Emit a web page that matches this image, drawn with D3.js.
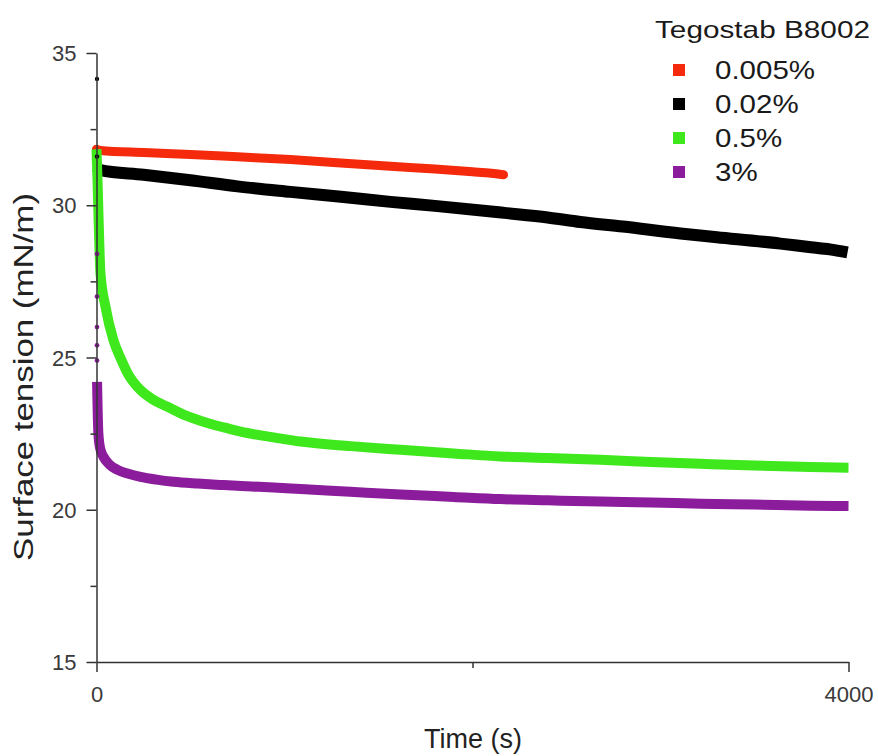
<!DOCTYPE html>
<html><head><meta charset="utf-8">
<script src="https://cdn.jsdelivr.net/npm/d3@7"></script>
<style>body{margin:0;background:#fff}svg{display:block}text{font-family:"Liberation Sans",Arial,sans-serif}</style>
</head><body><svg id="c" width="878" height="756"></svg>
<script>
// ---- data ----
const xTicks = [0, 4000];
const xMinorTicks = [2000];
const yTicks = [15, 20, 25, 30, 35];
const yMinorTicks = [17.5, 22.5, 27.5, 32.5];
const legendTitle = "Tegostab B8002";
const seriesNames = ["0.005%", "0.02%", "0.5%", "3%"];
const seriesColors = ["#f52a0c", "#000000", "#3fe81c", "#8b1c9b"];

const tRed = [0, 21, 250, 500, 750, 1032, 1300, 1564, 1800, 2000, 2100, 2165];
const vRed = [31.84, 31.80, 31.73, 31.67, 31.59, 31.50, 31.39, 31.28, 31.19, 31.10, 31.05, 31.00];

const tBlack = [0, 21, 250, 500, 750, 1032, 1300, 1564, 1800, 2170, 2400, 2574, 2800, 3106, 3300, 3638, 3800, 3900, 3995];
const vBlack = [31.25, 31.15, 31.0, 30.82, 30.62, 30.44, 30.28, 30.11, 29.98, 29.75, 29.6, 29.45, 29.3, 29.07, 28.95, 28.74, 28.62, 28.55, 28.45];

const tGreen = [0, 5, 10, 21, 48, 90, 130, 165, 234, 300, 378, 480, 590, 700, 803, 950, 1085, 1350, 1617, 1900, 2149, 2400, 2681, 2950, 3213, 3500, 3798, 4000];
const vGreen = [31.84, 30.9, 29.8, 27.77, 26.66, 25.57, 24.95, 24.49, 23.93, 23.62, 23.38, 23.08, 22.85, 22.67, 22.52, 22.37, 22.24, 22.09, 21.97, 21.85, 21.75, 21.70, 21.64, 21.57, 21.51, 21.45, 21.40, 21.38];

const tPurple = [3, 6, 10, 20, 37, 70, 112, 170, 234, 320, 410, 540, 676, 800, 941, 1085, 1350, 1617, 1900, 2149, 2400, 2681, 2950, 3213, 3500, 3798, 4000];
const vPurple = [24.2, 23.3, 22.5, 22.0, 21.74, 21.48, 21.31, 21.18, 21.08, 20.99, 20.92, 20.86, 20.81, 20.77, 20.73, 20.68, 20.59, 20.50, 20.42, 20.35, 20.31, 20.27, 20.24, 20.20, 20.17, 20.13, 20.12];

// sparse early-time readings sitting on the y axis
const tBlackEarly = [0, 0];
const vBlackEarly = [34.15, 31.6];
const tPurpleEarly = [0, 0, 0, 0, 0];
const vPurpleEarly = [28.4, 27.0, 26.0, 25.4, 24.9];

// ---- chart ----
const svg = d3.select("#c");
svg.append("rect").attr("width", 878).attr("height", 756).attr("fill", "#fff");

const x = d3.scaleLinear().domain([0, 4000]).range([96.5, 848.5]);
const y = d3.scaleLinear().domain([15, 35]).range([662, 53]);
const axisColor = "#333";

function styleAxis(g) {
  g.selectAll("path,line").attr("stroke", axisColor).attr("stroke-width", 1.5);
  g.selectAll("text").attr("fill", "#3a3a3a").attr("font-size", 22)
    .attr("font-family", '"Liberation Sans",Arial,sans-serif');
}

// series
const series = [
  { t: tRed, v: vRed, w: 9, cap: "round" },
  { t: tBlack, v: vBlack, w: 12, cap: "butt" },
  { t: tPurple, v: vPurple, w: 10, cap: "butt" },
  { t: tGreen, v: vGreen, w: 10, cap: "butt" }
];
const colorIdx = [0, 1, 3, 2];
const line = d3.line().x(d => x(d[0])).y(d => y(d[1])).curve(d3.curveMonotoneX);
series.forEach((s, i) => {
  const pts = s.t.map((t, k) => [t, s.v[k]]);
  svg.append("path").datum(pts).attr("d", line)
    .attr("fill", "none").attr("stroke", seriesColors[colorIdx[i]])
    .attr("stroke-width", s.w).attr("stroke-linecap", s.cap).attr("stroke-linejoin", "round");
});

// early points
svg.append("g").selectAll("circle").data(tBlackEarly.map((t, k) => [t, vBlackEarly[k]]))
  .join("circle").attr("cx", d => x(d[0]) + 0.5).attr("cy", d => y(d[1])).attr("r", 2.2).attr("fill", seriesColors[1]);
svg.append("g").selectAll("circle").data(tPurpleEarly.map((t, k) => [t, vPurpleEarly[k]]))
  .join("circle").attr("cx", d => x(d[0]) + 0.5).attr("cy", d => y(d[1])).attr("r", 2.4).attr("fill", seriesColors[3]);

// y axis
const gy = svg.append("g").attr("transform", `translate(${x(0)},0)`)
  .call(d3.axisLeft(y).tickValues(yTicks).tickSize(10).tickSizeOuter(0).tickPadding(10).tickFormat(d3.format("d")));
styleAxis(gy);
gy.selectAll("text").attr("dy", "0.35em");
const gym = svg.append("g").attr("transform", `translate(${x(0)},0)`)
  .call(d3.axisLeft(y).tickValues(yMinorTicks).tickSize(6).tickSizeOuter(0).tickFormat(""));
styleAxis(gym);
gym.select(".domain").remove();

// x axis
const gx = svg.append("g").attr("transform", `translate(0,${y(15)})`)
  .call(d3.axisBottom(x).tickValues(xTicks).tickSize(10).tickSizeOuter(0).tickFormat(d3.format("d")));
styleAxis(gx);
gx.selectAll("text").attr("y", 40).attr("dy", 0);
const gxm = svg.append("g").attr("transform", `translate(0,${y(15)})`)
  .call(d3.axisBottom(x).tickValues(xMinorTicks).tickSize(6).tickSizeOuter(0).tickFormat(""));
styleAxis(gxm);
gxm.select(".domain").remove();

// axis titles
svg.append("text").attr("x", 473).attr("y", 748).attr("text-anchor", "middle")
  .attr("font-size", 27).attr("fill", "#222").text("Time (s)");
svg.append("text").attr("transform", "translate(33,377) rotate(-90)").attr("text-anchor", "middle")
  .attr("font-size", 27).attr("fill", "#222")
  .attr("textLength", 368).attr("lengthAdjust", "spacingAndGlyphs")
  .text("Surface tension (mN/m)");

// legend
const lg = svg.append("g");
lg.append("text").attr("transform", "translate(655,38) scale(1.24,1)")
  .attr("font-size", 24).attr("fill", "#1a1a1a").text(legendTitle);
const rowY = [70, 104, 138, 172];
seriesNames.forEach((n, i) => {
  lg.append("rect").attr("x", 673).attr("y", rowY[i] - 6).attr("width", 12).attr("height", 12)
    .attr("fill", seriesColors[i]);
  lg.append("text").attr("transform", `translate(715,${rowY[i] + 9}) scale(1.18,1)`)
    .attr("font-size", 25).attr("fill", "#1a1a1a").text(n);
});
</script></body></html>
